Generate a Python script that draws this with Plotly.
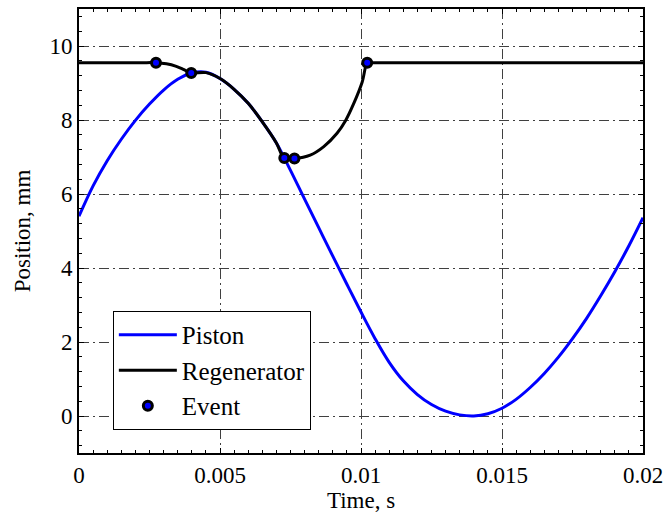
import plotly.graph_objects as go

# Piston position
piston_t = [0, 0.0005, 0.001, 0.0015, 0.002, 0.0025, 0.003, 0.0035, 0.004, 0.0045,
            0.005, 0.0055, 0.006, 0.0065, 0.007, 0.0075, 0.008, 0.0085, 0.009, 0.0095,
            0.01, 0.0105, 0.011, 0.0115, 0.012, 0.0125, 0.013, 0.0135, 0.014, 0.0145,
            0.015, 0.0155, 0.016, 0.0165, 0.017, 0.0175, 0.018, 0.0185, 0.019, 0.0195, 0.02]
piston_y = [5.40, 6.22, 6.90, 7.48, 7.99, 8.43, 8.81, 9.10, 9.27, 9.29,
            9.12, 8.83, 8.45, 7.95, 7.38, 6.64, 5.86, 5.09, 4.32, 3.56,
            2.81, 2.09, 1.45, 0.95, 0.58, 0.31, 0.13, 0.03, 0.00, 0.06,
            0.21, 0.45, 0.77, 1.15, 1.59, 2.09, 2.64, 3.25, 3.90, 4.60, 5.36]

# Regenerator position
regen_t = [0, 0.0024, 0.00273, 0.0031, 0.00345, 0.0037, 0.00398, 0.0045, 0.005,
           0.0055, 0.006, 0.0065, 0.007, 0.00728, 0.00764, 0.0082, 0.00868, 0.00915,
           0.00945, 0.00974, 0.01004, 0.01022, 0.0103, 0.02]
regen_y = [9.55, 9.55, 9.55, 9.52, 9.45, 9.37, 9.27, 9.28, 9.12,
           8.83, 8.45, 7.95, 7.38, 6.97, 6.96, 7.05, 7.28, 7.64,
           7.98, 8.44, 9.02, 9.55, 9.55, 9.55]

# Events
event_t = [0.00273, 0.00398, 0.00728, 0.00764, 0.01022]
event_y = [9.55, 9.27, 6.97, 6.96, 9.55]

FONT = "Liberation Serif"
FS = 23

fig = go.Figure()
fig.add_trace(go.Scatter(x=piston_t, y=piston_y, mode="lines", name="Piston",
                         line=dict(color="#0000ff", width=3, shape="spline", smoothing=1),
                         legendgroup="a"))
fig.add_trace(go.Scatter(x=regen_t, y=regen_y, mode="lines", name="Regenerator",
                         line=dict(color="black", width=3, shape="spline", smoothing=1),
                         legendgroup="b"))
fig.add_trace(go.Scatter(x=event_t, y=event_y, mode="markers", name="Event",
                         marker=dict(color="#0000ff", size=9,
                                     line=dict(color="black", width=3)),
                         legendgroup="c"))

axis_common = dict(
    showline=True, linecolor="black", linewidth=2, mirror="allticks",
    ticks="inside", ticklen=5, tickcolor="black", tickwidth=1,
    showgrid=True, gridcolor="#404040", griddash="10px,4px,2px,4px", gridwidth=1,
    zeroline=False, automargin=False,
    tickfont=dict(family=FONT, size=FS, color="black"),
)

fig.update_xaxes(range=[0, 0.02], tickvals=[0, 0.005, 0.01, 0.015, 0.02],
                 ticktext=["0", "0.005", "0.01", "0.015", "0.02"],
                 minor=dict(ticks="inside", dtick=0.0005, ticklen=3, tickcolor="black", showgrid=False),
                 title=dict(text="Time, s", font=dict(family=FONT, size=FS, color="black"), standoff=0),
                 **axis_common)
fig.update_yaxes(range=[-1, 11], tickvals=[0, 2, 4, 6, 8, 10],
                 minor=dict(ticks="inside", dtick=0.4, tick0=0, ticklen=3, tickcolor="black", showgrid=False),
                 title=dict(text="Position, mm", font=dict(family=FONT, size=FS, color="black"), standoff=12),
                 **axis_common)

fig.update_layout(
    width=667, height=514,
    margin=dict(l=79, r=24, t=9, b=61),
    paper_bgcolor="white", plot_bgcolor="white",
    showlegend=True,
    legend=dict(x=0.06, y=0.32, xanchor="left", yanchor="top",
                bgcolor="white", bordercolor="black", borderwidth=1,
                font=dict(family=FONT, size=25, color="black"),
                itemwidth=58,
                traceorder="grouped", tracegroupgap=0),
)

fig.write_html("out.html", config={"displayModeBar": False},
               post_script="document.body.style.margin='0px';")
